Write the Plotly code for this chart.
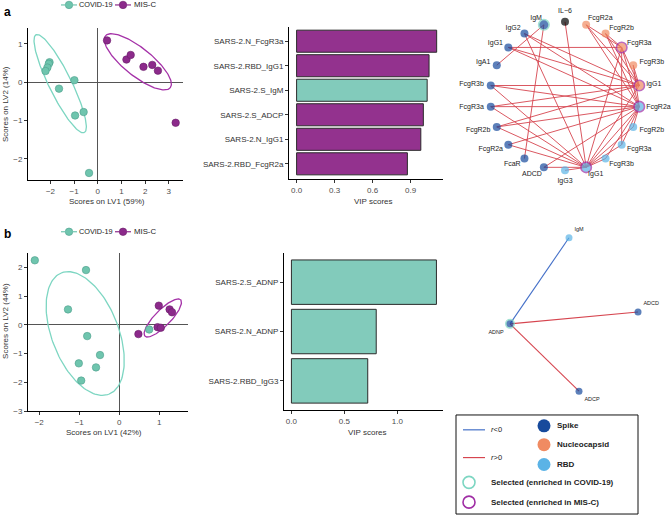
import numpy as np
import plotly.graph_objects as go

W, H = 671, 521
FONT = "Liberation Sans, Arial, sans-serif"

# ---------------- data ----------------
# panel a : PLS-DA scores
a_covid_lv1 = [-2.04, -2.07, -2.13, -2.21, -1.64, -0.99, -0.96, -0.60, -0.37]
a_covid_lv2 = [0.52, 0.48, 0.38, 0.29, -0.17, 0.05, -0.87, -0.78, -2.37]
a_misc_lv1 = [0.39, 1.21, 1.39, 1.93, 2.30, 2.54, 3.29]
a_misc_lv2 = [1.09, 0.59, 0.71, 0.40, 0.45, 0.30, -1.06]

# panel b : PLS-DA scores
b_covid_lv1 = [-2.11, -0.83, -1.28, -0.80, -0.48, -1.01, -0.58, -0.95, 0.75]
b_covid_lv2 = [2.25, 1.91, 0.54, -0.39, -1.05, -1.34, -1.48, -1.94, -0.16]
b_misc_lv1 = [0.99, 1.26, 1.32, 0.96, 1.04, 0.48]
b_misc_lv2 = [0.67, 0.54, 0.44, -0.08, -0.10, -0.32]

# VIP scores
a_features = ["SARS-2.N_FcgR3a", "SARS-2.RBD_IgG1", "SARS-2.S_IgM",
              "SARS-2.S_ADCP", "SARS-2.N_IgG1", "SARS-2.RBD_FcgR2a"]
a_vip = [1.105, 1.045, 1.03, 1.0, 0.98, 0.874]
a_enriched = ["MIS-C", "MIS-C", "COVID-19", "MIS-C", "MIS-C", "MIS-C"]

b_features = ["SARS-2.S_ADNP", "SARS-2.N_ADNP", "SARS-2.RBD_IgG3"]
b_vip = [1.368, 0.80, 0.72]
b_enriched = ["COVID-19", "COVID-19", "COVID-19"]

# correlation network a (circular layout, clockwise from top)
net_a_labels = ["IL\u22126", "FcgR2a", "FcgR2b", "FcgR3a", "FcgR3b", "IgG1",
                "FcgR2a", "FcgR2b", "FcgR3a", "FcgR3b", "IgG1", "IgG3",
                "ADCD", "FcaR", "FcgR2a", "FcgR2b", "FcgR3a", "FcgR3b",
                "IgA1", "IgG1", "IgG2", "IgM"]
net_a_antigen = ["Cytokine", "N", "N", "N", "N", "N",
                 "RBD", "RBD", "RBD", "RBD", "RBD", "RBD",
                 "S", "S", "S", "S", "S", "S", "S", "S", "S", "S"]
net_a_selected = ["", "", "", "MIS-C", "", "MIS-C", "MIS-C", "", "", "", "MIS-C", "",
                  "", "", "", "", "", "", "", "", "", "COVID-19"]
net_a_edges = [(21, 18), (21, 13), (0, 10),
               (3, 1), (3, 2), (3, 19), (3, 8), (3, 10), (3, 5), (3, 6),
               (5, 1), (5, 2), (5, 4), (5, 20), (5, 19), (5, 17), (5, 16), (5, 15), (5, 10),
               (6, 1), (6, 2), (6, 4), (6, 20), (6, 19), (6, 17), (6, 16), (6, 15), (6, 14),
               (6, 12), (6, 7), (6, 8), (6, 9), (6, 10),
               (10, 17), (10, 16), (10, 15), (10, 14), (10, 12), (10, 11), (10, 9),
               (10, 8), (10, 7), (10, 20)]
net_a_sign = ["pos"] * len(net_a_edges)

# correlation network b (layout coordinates)
net_b_labels = ["IgM", "ADNP", "ADCD", "ADCP"]
net_b_antigen = ["RBD", "S", "S", "S"]
net_b_selected = ["", "COVID-19", "", ""]
net_b_x = [569, 510, 638, 579]
net_b_y = [240, 327, 315, 395]
net_b_edges = [(1, 0), (1, 2), (1, 3)]
net_b_sign = ["neg", "pos", "pos"]
net_b_textpos = ["top right", "bottom left", "top right", "bottom right"]

# ---------------- style ----------------
TEAL_PT = "#6FC5AE"
TEAL_PT_LINE = "#4E9E8B"
PURP_PT = "#8C2A8B"
PURP_PT_LINE = "#6A1E69"
TEAL_BAR = "#82CBBB"
PURP_BAR = "#93328E"
TEAL_ELL = "#7DD6C2"
PURP_ELL = "#A532A8"
ANT_COL = {"S": "#174A9C", "N": "#F08B62", "RBD": "#5BB3E6", "Cytokine": "#000000"}
SEL_COL = {"COVID-19": "#7DD6C2", "MIS-C": "#A02EA5", "": "rgba(0,0,0,0)"}
EDGE_COL = {"pos": "#D6454F", "neg": "#4470C8"}
ENR_COL = {"COVID-19": TEAL_BAR, "MIS-C": PURP_BAR}
TICKC = "#4D4D4D"


def dom_x(p0, p1):
    return [p0 / W, p1 / W]


def dom_y(p0, p1):
    return [1 - p1 / H, 1 - p0 / H]


def ellipse(cx, cy, a_px, b_px, ang_deg, sx, sy, n=160):
    t = np.linspace(0, 2 * np.pi, n)
    th = np.deg2rad(ang_deg)
    ex = a_px * np.cos(t) * np.cos(th) - b_px * np.sin(t) * np.sin(th)
    ey = a_px * np.cos(t) * np.sin(th) + b_px * np.sin(t) * np.cos(th)
    return cx + ex / sx, cy + ey / sy


fig = go.Figure()

# ---------------- panel geometry ----------------
SA = dict(px=(28, 183), py=(28, 182), xr=[-2.95, 3.6], yr=[-2.56, 1.42])
SB = dict(px=(28, 188), py=(255, 415), xr=[-2.28, 1.72], yr=[-3.0, 2.52])
BA = dict(px=(289, 443), py=(27, 181), xr=[-0.06, 1.155], yr=[5.63, -0.59])
BB = dict(px=(284, 443), py=(255, 414), xr=[-0.07, 1.43], yr=[2.59, -0.6])


def scale(p):
    sx = (p["px"][1] - p["px"][0]) / (p["xr"][1] - p["xr"][0])
    sy = (p["py"][1] - p["py"][0]) / abs(p["yr"][1] - p["yr"][0])
    return sx, sy


# ---------------- scatter panels ----------------
def scatter_panel(xa, ya, p, cov_x, cov_y, mis_x, mis_y, ell_c, ell_m):
    sx, sy = scale(p)
    ex, ey = ellipse(*ell_c, sx, sy)
    fig.add_trace(go.Scatter(x=ex, y=ey, mode="lines", line=dict(color=TEAL_ELL, width=1.3),
                             xaxis=xa, yaxis=ya, showlegend=False, hoverinfo="skip"))
    ex, ey = ellipse(*ell_m, sx, sy)
    fig.add_trace(go.Scatter(x=ex, y=ey, mode="lines", line=dict(color=PURP_ELL, width=1.3),
                             xaxis=xa, yaxis=ya, showlegend=False, hoverinfo="skip"))
    fig.add_trace(go.Scatter(x=cov_x, y=cov_y, mode="markers", name="COVID-19",
                             marker=dict(size=7.5, color=TEAL_PT, line=dict(color=TEAL_PT_LINE, width=0.6)),
                             xaxis=xa, yaxis=ya, showlegend=False))
    fig.add_trace(go.Scatter(x=mis_x, y=mis_y, mode="markers", name="MIS-C",
                             marker=dict(size=7.5, color=PURP_PT, line=dict(color=PURP_PT_LINE, width=0.6)),
                             xaxis=xa, yaxis=ya, showlegend=False))


scatter_panel("x", "y", SA, a_covid_lv1, a_covid_lv2, a_misc_lv1, a_misc_lv2,
              (-1.59, -0.04, 55, 11.3, -64), (1.69, 0.53, 41.7, 14.0, -39))
scatter_panel("x3", "y3", SB, b_covid_lv1, b_covid_lv2, b_misc_lv1, b_misc_lv2,
              (-0.85, -0.30, 65.7, 33.4, -69), (1.09, 0.24, 25.6, 8.0, 46))

# ---------------- bar panels ----------------
fig.add_trace(go.Bar(x=a_vip, y=a_features, orientation="h", width=0.9,
                     marker=dict(color=[ENR_COL[e] for e in a_enriched], line=dict(color="#2B2B2B", width=1)),
                     xaxis="x2", yaxis="y2", showlegend=False))
fig.add_trace(go.Bar(x=b_vip, y=b_features, orientation="h", width=0.9,
                     marker=dict(color=[ENR_COL[e] for e in b_enriched], line=dict(color="#2B2B2B", width=1)),
                     xaxis="x4", yaxis="y4", showlegend=False))

# ---------------- networks (overlay axis in pixel units) ----------------
OX, OY = "x5", "y5"
cx, cy, R = 565.0, 97.0, 75.0
n = len(net_a_labels)
ang = np.arange(n) * 2 * np.pi / n
na_x = cx + R * np.sin(ang)
na_y = cy - R * np.cos(ang)


def add_edges(xs, ys, edges, signs, width):
    for sgn in ["pos", "neg"]:
        ex, ey = [], []
        for (i, j), s in zip(edges, signs):
            if s == sgn:
                ex += [xs[i], xs[j], None]
                ey += [ys[i], ys[j], None]
        if ex:
            fig.add_trace(go.Scatter(x=ex, y=ey, mode="lines", line=dict(color=EDGE_COL[sgn], width=width),
                                     xaxis=OX, yaxis=OY, showlegend=False, hoverinfo="skip"))


add_edges(na_x, na_y, net_a_edges, net_a_sign, 0.9)
fig.add_trace(go.Scatter(
    x=na_x, y=na_y, mode="markers",
    marker=dict(size=[10.5 if s else 8 for s in net_a_selected],
                color=[ANT_COL[a] for a in net_a_antigen],
                line=dict(color=[SEL_COL[s] for s in net_a_selected],
                          width=[1.6 if s else 0 for s in net_a_selected])),
    xaxis=OX, yaxis=OY, showlegend=False, hoverinfo="skip"))

lab_r = R + 7
lx = cx + lab_r * np.sin(ang)
ly = cy - lab_r * np.cos(ang)
tpos = []
for a in ang:
    s, c = np.sin(a), np.cos(a)
    if s > 0.25:
        tpos.append("middle right")
    elif s < -0.25:
        tpos.append("middle left")
    else:
        tpos.append("top center" if c > 0 else "bottom center")
fig.add_trace(go.Scatter(x=lx, y=ly, mode="text", text=net_a_labels, textposition=tpos,
                         textfont=dict(size=7, color="#222222", family=FONT),
                         xaxis=OX, yaxis=OY, showlegend=False, hoverinfo="skip"))

add_edges(net_b_x, net_b_y, net_b_edges, net_b_sign, 1.1)
fig.add_trace(go.Scatter(
    x=net_b_x, y=net_b_y, mode="markers+text", text=net_b_labels, textposition=net_b_textpos,
    textfont=dict(size=5.5, color="#222222", family=FONT),
    marker=dict(size=[8.5 if s else 7 for s in net_b_selected],
                color=[ANT_COL[a] for a in net_b_antigen],
                line=dict(color=[SEL_COL[s] for s in net_b_selected],
                          width=[1.5 if s else 0 for s in net_b_selected])),
    xaxis=OX, yaxis=OY, showlegend=False, hoverinfo="skip"))

# ---------------- legends ----------------
shapes = []
annotations = []


def txt(x, y, s, size=8, xanchor="left", bold=False, color="#222222", angle=0):
    annotations.append(dict(x=x, y=y, xref=OX, yref=OY, text=("<b>%s</b>" % s) if bold else s,
                            showarrow=False, xanchor=xanchor, yanchor="middle", textangle=angle,
                            font=dict(size=size, family=FONT, color=color)))


def hline(x0, x1, y, color, width=1.2):
    shapes.append(dict(type="line", x0=x0, x1=x1, y0=y, y1=y, xref=OX, yref=OY,
                       line=dict(color=color, width=width)))


# top group legends (a and b)
leg_mk_x, leg_mk_y, leg_mk_c, leg_mk_l = [], [], [], []
for ly_ in (5, 234):
    hline(61, 77, ly_, TEAL_PT, 1.2)
    hline(115, 131, ly_, PURP_PT, 1.2)
    leg_mk_x += [69, 123]
    leg_mk_y += [ly_, ly_]
    leg_mk_c += [TEAL_PT, PURP_PT]
    leg_mk_l += [TEAL_PT_LINE, PURP_PT_LINE]
    txt(77, ly_, "COVID-19", 7.3)
    txt(132, ly_, "MIS-C", 7.8)
fig.add_trace(go.Scatter(x=leg_mk_x, y=leg_mk_y, mode="markers",
                         marker=dict(size=7.5, color=leg_mk_c, line=dict(color=leg_mk_l, width=0.6)),
                         xaxis=OX, yaxis=OY, showlegend=False, hoverinfo="skip"))

# network legend box
shapes.append(dict(type="rect", x0=456, x1=638, y0=419, y1=519, xref=OX, yref=OY,
                   line=dict(color="#111111", width=1)))
hline(463, 485, 434, EDGE_COL["neg"], 1.2)
hline(463, 485, 462, EDGE_COL["pos"], 1.2)
txt(489, 434, "<i>r</i><0", 7.5)
txt(489, 462, "<i>r</i>>0", 7.5)
fig.add_trace(go.Scatter(x=[544, 544, 544], y=[430, 449, 469], mode="markers",
                         marker=dict(size=13, color=[ANT_COL["S"], ANT_COL["N"], ANT_COL["RBD"]]),
                         xaxis=OX, yaxis=OY, showlegend=False, hoverinfo="skip"))
txt(555, 430, "Spike", 8, bold=True)
txt(555, 449, "Nucleocapsid", 8, bold=True)
txt(555, 469, "RBD", 8, bold=True)
fig.add_trace(go.Scatter(x=[469, 469], y=[487, 507], mode="markers",
                         marker=dict(size=12, color="rgba(0,0,0,0)",
                                     line=dict(color=[SEL_COL["COVID-19"], SEL_COL["MIS-C"]], width=1.6)),
                         xaxis=OX, yaxis=OY, showlegend=False, hoverinfo="skip"))
txt(489, 487, "Selected (enriched in COVID-19)", 8, bold=True)
txt(489, 507, "Selected (enriched in MIS-C)", 8, bold=True)

# panel letters
txt(2, 12, "a", 12, bold=True, color="#000000")
txt(2, 236, "b", 12, bold=True, color="#000000")

# axis titles
txt(107, 203, "Scores on LV1 (59%)", 8, xanchor="center", color="#333333")
txt(6, 105, "Scores on LV2 (14%)", 8, xanchor="center", color="#333333", angle=-90)
txt(104, 437, "Scores on LV1 (42%)", 8, xanchor="center", color="#333333")
txt(6, 324, "Scores on LV2 (44%)", 8, xanchor="center", color="#333333", angle=-90)
txt(373, 203, "VIP scores", 8, xanchor="center", color="#333333")
txt(367, 437, "VIP scores", 8, xanchor="center", color="#333333")

# ---------------- axes ----------------
base = dict(showgrid=False, showline=True, linecolor="#000000", linewidth=1, ticks="outside",
            ticklen=3, tickwidth=0.8, tickcolor="#333333", mirror=False,
            tickfont=dict(size=8, color=TICKC, family=FONT), zeroline=False)


def axes(p, xt, yt, zero):
    xa = dict(base, domain=dom_x(*p["px"]), range=p["xr"], tickvals=xt)
    ya = dict(base, domain=dom_y(*p["py"]), range=p["yr"])
    if yt is not None:
        ya["tickvals"] = yt
    if zero:
        xa.update(zeroline=True, zerolinecolor="#555555", zerolinewidth=0.9)
        ya.update(zeroline=True, zerolinecolor="#555555", zerolinewidth=0.9)
    return xa, ya


xa1, ya1 = axes(SA, [-2, -1, 0, 1, 2, 3], [-2, -1, 0, 1], True)
xa1["anchor"], ya1["anchor"] = "y", "x"
xa2, ya2 = axes(BA, [0, 0.3, 0.6, 0.9], None, False)
xa2.update(anchor="y2", tickformat=".1f")
ya2.update(anchor="x2", type="category", tickfont=dict(size=8, color="#333333", family=FONT))
xa3, ya3 = axes(SB, [-2, -1, 0, 1], [-3, -2, -1, 0, 1, 2], True)
xa3["anchor"], ya3["anchor"] = "y3", "x3"
xa4, ya4 = axes(BB, [0, 0.5, 1.0], None, False)
xa4.update(anchor="y4", tickformat=".1f")
ya4.update(anchor="x4", type="category", tickfont=dict(size=8, color="#333333", family=FONT))

fig.update_layout(
    width=W, height=H, margin=dict(l=0, r=0, t=0, b=0),
    paper_bgcolor="white", plot_bgcolor="rgba(0,0,0,0)",
    font=dict(family=FONT, size=8, color="#222222"),
    xaxis=xa1, yaxis=ya1, xaxis2=xa2, yaxis2=ya2,
    xaxis3=xa3, yaxis3=ya3, xaxis4=xa4, yaxis4=ya4,
    xaxis5=dict(domain=[0, 1], range=[0, W], visible=False, anchor="y5", fixedrange=True),
    yaxis5=dict(domain=[0, 1], range=[H, 0], visible=False, anchor="x5", fixedrange=True),
    shapes=shapes, annotations=annotations, bargap=0.1, showlegend=False,
)

fig.write_html("out.html", config={"displayModeBar": False},
               post_script="document.body.style.margin='0';document.body.style.overflow='hidden';")
